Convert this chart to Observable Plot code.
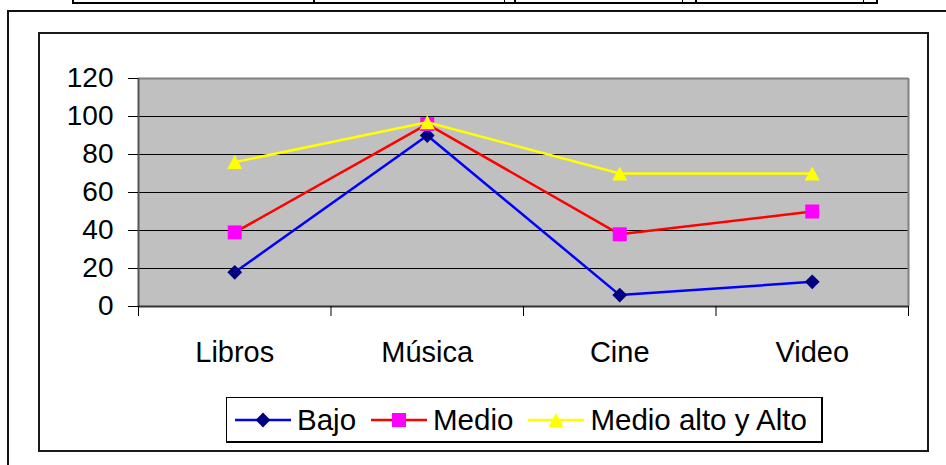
<!DOCTYPE html>
<html>
<head>
<meta charset="utf-8">
<script src="https://cdn.jsdelivr.net/npm/d3@7"></script>
<script src="https://cdn.jsdelivr.net/npm/@observablehq/plot@0.6"></script>
<style>
  html, body { margin: 0; padding: 0; background: #fff; overflow: hidden; }
  #page { position: relative; width: 946px; height: 465px; font-family: "Liberation Sans", Arial, sans-serif; }
  .abs { position: absolute; box-sizing: border-box; }
  #chart { position: absolute; left: 0; top: 0; }
  #legend { display: flex; align-items: center; padding-left: 8px; }
  #legend .item { display: flex; align-items: center; }
  #legend svg { display: block; margin-right: 6px; }
  #legend span { font-size: 29.5px; color: #000; margin-right: 15px; white-space: nowrap; line-height: 1; }
</style>
</head>
<body>
<div id="page">
  <!-- fragment of table above the chart -->
  <div class="abs" style="left:72px; top:-4px; width:806px; height:8px; border:2px solid #000;"></div>
  <div class="abs" style="left:313px; top:0; width:2px; height:4px; background:#000;"></div>
  <div class="abs" style="left:514px; top:0; width:2px; height:4px; background:#000;"></div>
  <div class="abs" style="left:695px; top:0; width:2px; height:4px; background:#000;"></div>
  <div class="abs" style="left:504px; top:0; width:1px; height:3px; background:#000;"></div>
  <div class="abs" style="left:682px; top:0; width:1px; height:3px; background:#000;"></div>
  <div class="abs" style="left:863px; top:0; width:1px; height:3px; background:#000;"></div>
  <!-- outer frame -->
  <div class="abs" style="left:7px; top:10px; width:1200px; height:1000px; border:2px solid #111;"></div>
  <!-- chart area box -->
  <div class="abs" style="left:38px; top:32px; width:891px; height:420px; border:2px solid #1a1a1a; background:#fff;"></div>
  <div id="chart"></div>
  <div id="legend" class="abs" style="left:226px; top:397px; width:597px; height:46px; border:1px solid #000; border-right-width:2px; border-bottom-width:2px; background:#fff;"></div>
</div>
<script>
// ---- data ----
const categories = ["Libros", "Música", "Cine", "Video"];
const seriesNames = ["Bajo", "Medio", "Medio alto y Alto"];
const bajo = [18, 90, 6, 13];
const medio = [39, 96, 38, 50];
const medioAlto = [76, 97, 70, 70];
const yTicks = [0, 20, 40, 60, 80, 100, 120];

// ---- styles ----
const lineColors = ["#0000FF", "#FF0000", "#FFFF00"];
const markerColors = ["#000080", "#FF00FF", "#FFFF00"];

const diamond = {draw(ctx, size) { const h = Math.sqrt(size) / 2; ctx.moveTo(0, -h); ctx.lineTo(h, 0); ctx.lineTo(0, h); ctx.lineTo(-h, 0); ctx.closePath(); }};
const square = {draw(ctx, size) { const h = Math.sqrt(size) / 2; ctx.moveTo(-h, -h); ctx.lineTo(h, -h); ctx.lineTo(h, h); ctx.lineTo(-h, h); ctx.closePath(); }};
const triangle = {draw(ctx, size) { const h = Math.sqrt(size) / 2; ctx.moveTo(0, -h); ctx.lineTo(h * 1.07, h); ctx.lineTo(-h * 1.07, h); ctx.closePath(); }};
const symbols = [diamond, square, triangle];
const radii = [8.35, 7.9, 7.9];

const seriesValues = [bajo, medio, medioAlto];
const rows = seriesNames.flatMap((s, k) => categories.map((c, i) => ({series: s, k, i, category: c, value: seriesValues[k][i]})));

const boundaries = categories.map((_, i) => i - 0.5).concat([categories.length - 0.5]);

const seriesMarks = seriesNames.flatMap((s, k) => {
  const d = rows.filter(r => r.k === k);
  return [
    Plot.line(d, {x: "i", y: "value", stroke: lineColors[k], strokeWidth: 2.5}),
    Plot.dot(d, {x: "i", y: "value", symbol: symbols[k], r: radii[k], fill: markerColors[k], stroke: "none"})
  ];
});

const chart = Plot.plot({
  width: 946,
  height: 465,
  marginLeft: 138,
  marginRight: 38,
  marginTop: 78,
  marginBottom: 159,
  style: {background: "transparent", fontFamily: "'Liberation Sans', Arial, sans-serif", color: "#000"},
  x: {type: "linear", domain: [-0.5, categories.length - 0.5], axis: null},
  y: {domain: [0, 120], axis: null},
  marks: [
    Plot.frame({fill: "#C0C0C0", stroke: "none"}),
    Plot.ruleY(yTicks.filter(v => v > 0 && v < 120), {stroke: "#000", strokeWidth: 1}),
    Plot.ruleY([120], {stroke: "#808080", strokeWidth: 2}),
    Plot.ruleX([categories.length - 0.5], {stroke: "#808080", strokeWidth: 2}),
    Plot.ruleX([-0.5], {stroke: "#555", strokeWidth: 2}),
    Plot.ruleY([0], {stroke: "#333", strokeWidth: 2}),
    Plot.axisY({ticks: yTicks, tickSize: 10, tickPadding: 15, fontSize: 28, label: null, stroke: "#000"}),
    Plot.axisX({ticks: boundaries, tickSize: 10, tickFormat: () => "", label: null, stroke: "#000"}),
    Plot.axisX({ticks: categories.map((_, i) => i), tickSize: 0, tickPadding: 35, tickFormat: i => categories[i], fontSize: 29, label: null}),
    ...seriesMarks
  ]
});
document.getElementById("chart").appendChild(chart);

// ---- legend ----
const legend = document.getElementById("legend");
const paths = [
  h => `M${28},${10 - h} L${28 + h},10 L28,${10 + h} L${28 - h},10 Z`,
  h => `M${28 - h},${10 - h} H${28 + h} V${10 + h} H${28 - h} Z`,
  h => `M28,${10 - h} L${28 + h * 1.07},${10 + h} L${28 - h * 1.07},${10 + h} Z`
];
const halfs = [7.4, 7, 7];
seriesNames.forEach((s, k) => {
  const item = document.createElement("div");
  item.className = "item";
  item.innerHTML = `<svg width="56" height="20" viewBox="0 0 56 20"><line x1="0" x2="56" y1="10" y2="10" stroke="${lineColors[k]}" stroke-width="2.5"/><path d="${paths[k](halfs[k])}" fill="${markerColors[k]}"/></svg><span>${s}</span>`;
  legend.appendChild(item);
});
</script>
</body>
</html>
